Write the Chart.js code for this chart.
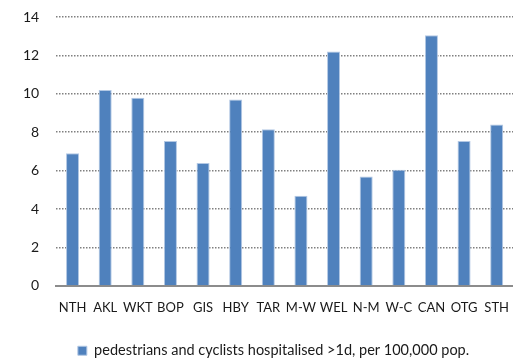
<!DOCTYPE html>
<html>
<head>
<meta charset="utf-8">
<script src="https://cdn.jsdelivr.net/npm/chart.js@4/dist/chart.umd.min.js"></script>
<style>
  html, body { margin: 0; padding: 0; background: #fff; overflow: hidden; }
  #wrap { width: 513px; height: 360px; position: relative; }
</style>
</head>
<body>
<div id="wrap"><canvas id="regionChart"></canvas></div>
<script>
// regions and rate per 100,000 population
var regions = ["NTH", "AKL", "WKT", "BOP", "GIS", "HBY", "TAR", "M-W", "WEL", "N-M", "W-C", "CAN", "OTG", "STH"];
var hospitalisedRate = [6.9, 10.2, 9.8, 7.55, 6.4, 9.7, 8.15, 4.7, 12.2, 5.7, 6.05, 13.05, 7.55, 8.4];
var seriesLabel = "pedestrians and cyclists hospitalised >1d, per 100,000 pop.";
var yTicks = [0, 2, 4, 6, 8, 10, 12, 14];

Chart.defaults.font.family = "Lato, 'Open Sans', sans-serif";
Chart.defaults.color = "#1a1a1a";

// nudge the legend a little to the right, under the plot
var legendShift = {
    id: "legendShift",
    afterLayout: function(chart) {
        if (chart.legend) {
            chart.legend.left += 12;
            chart.legend.right += 12;
        }
    }
};

new Chart("regionChart", {
    type: "bar",
    data: {
        labels: regions,
        datasets: [{
            label: seriesLabel,
            data: hospitalisedRate,
            backgroundColor: "#4f81bd",
            borderColor: "#b3c8e4",
            borderWidth: 1,
            barPercentage: 0.4,
            categoryPercentage: 1.0
        }]
    },
    options: {
        responsive: true,
        maintainAspectRatio: false,
        animation: false,
        layout: {
            padding: { left: 6, right: -4, top: 17, bottom: -8 }
        },
        scales: {
            y: {
                min: 0,
                max: 14,
                afterBuildTicks: function(axis) {
                    axis.ticks = yTicks.map(function(v) { return { value: v }; });
                },
                afterFit: function(axis) {
                    axis.paddingTop = 0;
                },
                ticks: {
                    padding: 17,
                    font: { size: 14 }
                },
                grid: {
                    color: function(ctx) { return ctx.tick && ctx.tick.value === 0 ? "rgba(0,0,0,0)" : "#808080"; },
                    lineWidth: 1.5,
                    drawTicks: false
                },
                border: { display: false, dash: [1.5, 1.5] }
            },
            x: {
                ticks: {
                    padding: 14,
                    font: { size: 13 },
                    maxRotation: 0,
                    autoSkip: false
                },
                // extra room under the category labels before the legend
                afterFit: function(axis) {
                    axis.height += 11;
                    axis.paddingLeft = 0;
                    axis.paddingRight = 0;
                },
                grid: { display: false, drawTicks: false },
                border: { display: true, color: "#8c8c8c", width: 2 }
            }
        },
        plugins: {
            legend: {
                display: true,
                position: "bottom",
                labels: {
                    boxWidth: 9,
                    boxHeight: 9,
                    padding: 3,
                    font: { size: 14.5 }
                }
            },
            tooltip: { enabled: false }
        }
    },
    plugins: [legendShift]
});
</script>
</body>
</html>
